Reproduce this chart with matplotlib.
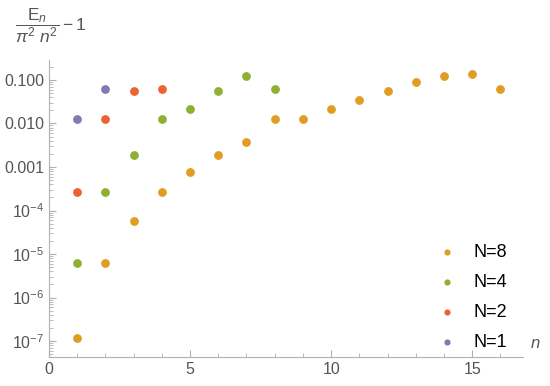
import matplotlib
matplotlib.use("Agg")
import matplotlib.pyplot as plt
import numpy as np

# data (E_n / (pi^2 n^2) - 1)
n1 = [1, 2]
e1 = [0.0127, 0.061]
n2 = [1, 2, 3, 4]
e2 = [2.6e-4, 0.0127, 0.057, 0.061]
n4 = [1, 2, 3, 4, 5, 6, 7, 8]
e4 = [6.2e-6, 2.6e-4, 1.9e-3, 0.0127, 0.022, 0.057, 0.124, 0.061]
n8 = list(range(1, 17))
e8 = [1.17e-7, 6.2e-6, 5.7e-5, 2.6e-4, 7.8e-4, 1.9e-3, 3.8e-3, 0.0127,
      0.0127, 0.022, 0.035, 0.057, 0.091, 0.124, 0.135, 0.061]

col8 = (0.880722, 0.611041, 0.142051)
col4 = (0.560181, 0.691569, 0.194885)
col2 = (0.922526, 0.385626, 0.209179)
col1 = (0.528488, 0.470624, 0.701351)

plt.rcParams['font.family'] = 'Liberation Sans'
plt.rcParams['mathtext.fontset'] = 'custom'
plt.rcParams['mathtext.rm'] = 'Liberation Sans'
plt.rcParams['mathtext.it'] = 'Liberation Sans:italic'
plt.rcParams['mathtext.sf'] = 'Liberation Sans'
fig = plt.figure(figsize=(5.5, 3.86), dpi=100)
ax = fig.add_axes([0.089, 0.075, 0.862, 0.77])

ax.scatter(n8, e8, s=28, color=col8, label='N=8', zorder=3)
ax.scatter(n4, e4, s=28, color=col4, label='N=4', zorder=3)
ax.scatter(n2, e2, s=28, color=col2, label='N=2', zorder=3)
ax.scatter(n1, e1, s=28, color=col1, label='N=1', zorder=3)

ax.set_yscale('log')
ax.set_xlim(0, 16.8)
ax.set_ylim(4.3e-8, 0.29)

ax.set_xticks([0, 5, 10, 15])
ax.set_xticks(np.arange(0, 17), minor=True)
ax.set_yticks([1e-7, 1e-6, 1e-5, 1e-4, 1e-3, 1e-2, 1e-1])
ax.set_yticklabels(['$10^{-7}$', '$10^{-6}$', '$10^{-5}$', '$10^{-4}$',
                    '0.001', '0.010', '0.100'])

gray = '#b0b0b0'
for s in ['top', 'right']:
    ax.spines[s].set_visible(False)
for s in ['left', 'bottom']:
    ax.spines[s].set_color(gray)
ax.tick_params(which='both', direction='in', color=gray, labelcolor='#555555',
               labelsize=11.5)
ax.tick_params(which='major', length=5)
ax.tick_params(which='minor', length=3)
ax.tick_params(axis='x', which='minor', labelbottom=False)

ax.text(1.015, 0.02, '$n$', transform=ax.transAxes, fontsize=12,
        color='#555555', ha='left', va='bottom')
fig.text(0.027, 0.935, r'$\dfrac{\mathrm{E}_n}{\pi^2\ n^2}-1$', fontsize=12.5,
         color='#555555', ha='left', va='center')

leg = ax.legend(loc='lower right', bbox_to_anchor=(1.0, -0.035), frameon=False,
                fontsize=13, handletextpad=0.45, labelspacing=0.72,
                markerscale=0.65)

fig.savefig('out.png', dpi=100)
